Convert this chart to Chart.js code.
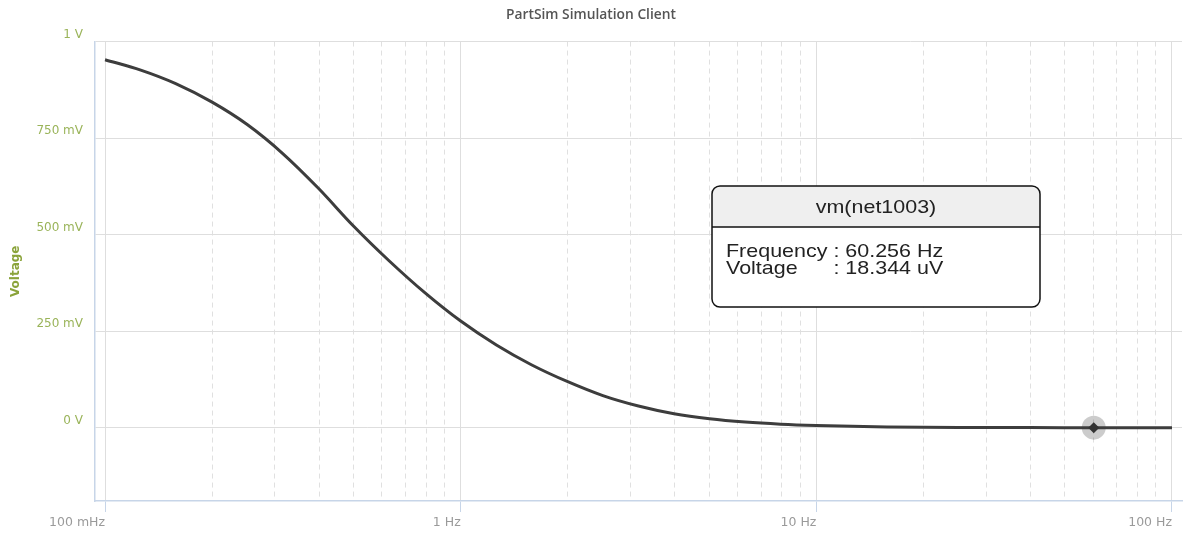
<!DOCTYPE html>
<html>
<head>
<meta charset="utf-8">
<script src="https://cdn.jsdelivr.net/npm/chart.js@4.4.1/dist/chart.umd.min.js"></script>
<style>
  html, body { margin: 0; padding: 0; background: #fff; }
  #wrap { width: 1195px; height: 538px; position: relative; }
</style>
</head>
<body>
<div id="wrap"><canvas id="voltChart"></canvas></div>
<script>
// ==========================================
// DATA
// ==========================================
const freqHz = [0.1, 0.126, 0.158, 0.2, 0.251, 0.316, 0.398, 0.501, 0.631, 0.794, 1, 1.26, 1.58, 2, 2.51, 3.16, 3.98, 5.01, 6.31, 7.94, 10, 12.6, 15.8, 20, 25.1, 31.6, 39.8, 50.1, 60.256, 79.4, 100];
const voltV = [0.953, 0.926, 0.891, 0.843, 0.785, 0.710, 0.620, 0.521, 0.431, 0.349, 0.276, 0.214, 0.163, 0.119, 0.083, 0.056, 0.036, 0.023, 0.0145, 0.009, 0.0055, 0.0033, 0.0019, 0.0010, 0.0005, 0.00026, 0.00013, 0.00004, 0.0000183, 0.0000085, 0.000004];

const xMajorTicks = [0.1, 1, 10, 100];
const xMajorLabels = ['100 mHz', '1 Hz', '10 Hz', '100 Hz'];
const xMinorTicks = [0.2, 0.3, 0.4, 0.5, 0.6, 0.7, 0.8, 0.9, 2, 3, 4, 5, 6, 7, 8, 9, 20, 30, 40, 50, 60, 70, 80, 90];

const yTicks = [0, 0.25, 0.5, 0.75, 1];
const yLabels = ['0 V', '250 mV', '500 mV', '750 mV', '1 V'];

const seriesName = 'vm(net1003)';
const markerFreq = 60.256;
const markerVolt = 18.344e-6;
const markerText = ['Frequency : 60.256 Hz', 'Voltage      : 18.344 uV'];

// ==========================================
// PLUGIN: kotak info di tengah grafik
// ==========================================
const infoBox = {
    id: 'infoBox',
    afterDraw(chart) {
        const ctx = chart.ctx;
        const x = 712, y = 186, w = 328, h = 121, r = 8, headH = 41;
        ctx.save();
        ctx.beginPath();
        ctx.roundRect(x, y, w, h, r);
        ctx.fillStyle = '#ffffff';
        ctx.fill();
        // header abu-abu
        ctx.save();
        ctx.clip();
        ctx.fillStyle = '#efefef';
        ctx.fillRect(x, y, w, headH);
        ctx.restore();
        ctx.beginPath();
        ctx.moveTo(x, y + headH);
        ctx.lineTo(x + w, y + headH);
        ctx.lineWidth = 1.5;
        ctx.strokeStyle = '#111';
        ctx.stroke();
        ctx.beginPath();
        ctx.roundRect(x, y, w, h, r);
        ctx.stroke();

        ctx.fillStyle = '#222';
        ctx.font = '19px "Liberation Sans", Arial, sans-serif';
        ctx.textBaseline = 'middle';
        // judul seri
        ctx.save();
        ctx.translate(x + w / 2, y + 22);
        ctx.scale(1.13, 1);
        ctx.textAlign = 'center';
        ctx.fillText(seriesName, 0, 0);
        ctx.restore();
        // baris nilai
        ctx.textBaseline = 'alphabetic';
        markerText.forEach((line, i) => {
            ctx.save();
            ctx.translate(x + 14, y + 71 + i * 17);
            ctx.scale(1.13, 1);
            ctx.textAlign = 'left';
            ctx.fillText(line, 0, 0);
            ctx.restore();
        });
        ctx.restore();
    }
};

// ==========================================
// RENDER CHART
// ==========================================
function renderChart() {
    const ctx = document.getElementById('voltChart').getContext('2d');
    const points = freqHz.map((f, i) => ({ x: f, y: voltV[i] }));
    const green = '#9ab45a';
    const axisBlue = '#c7d5e8';
    const gridGray = '#dedede';

    new Chart(ctx, {
        type: 'line',
        data: {
            datasets: [
                {
                    label: seriesName,
                    data: points,
                    borderColor: '#3d3d3d',
                    borderWidth: 3,
                    pointRadius: 0,
                    cubicInterpolationMode: 'monotone',
                    fill: false,
                    order: 1
                },
                {
                    label: 'marker',
                    data: [{ x: markerFreq, y: markerVolt }],
                    showLine: false,
                    pointStyle: 'rectRot',
                    pointRadius: 5.5,
                    backgroundColor: '#333',
                    borderWidth: 0,
                    order: 0
                },
                {
                    label: 'halo',
                    data: [{ x: markerFreq, y: markerVolt }],
                    showLine: false,
                    pointStyle: 'circle',
                    pointRadius: 12,
                    backgroundColor: 'rgba(0,0,0,0.2)',
                    borderWidth: 0,
                    order: 2
                }
            ]
        },
        options: {
            responsive: true,
            maintainAspectRatio: false,
            animation: false,
            layout: { padding: { left: 0, right: 13, top: 0, bottom: 0 } },
            plugins: {
                legend: { display: false },
                tooltip: { enabled: false },
                title: {
                    display: true,
                    text: 'PartSim Simulation Client',
                    color: '#555',
                    font: { family: 'Open Sans', size: 13.8, weight: '600' },
                    padding: { top: 7, bottom: 18 }
                }
            },
            scales: {
                x: {
                    type: 'logarithmic',
                    position: 'bottom',
                    min: 0.0937,
                    max: 106.7,
                    bounds: 'data',
                    afterBuildTicks: axis => { axis.ticks = xMajorTicks.map(v => ({ value: v, major: true })); },
                    afterFit: axis => { axis.height = 37; },
                    ticks: {
                        callback: (v, i) => xMajorLabels[i],
                        align: 'end',
                        autoSkip: false,
                        maxRotation: 0,
                        color: '#9a9a9a',
                        padding: 3,
                        font: { family: 'DejaVu Sans', size: 12.5, weight: 'normal' }
                    },
                    grid: { color: gridGray, tickColor: axisBlue, tickLength: 11, lineWidth: 1 },
                    border: { color: axisBlue, width: 1.5 }
                },
                xMinor: {
                    type: 'logarithmic',
                    position: 'bottom',
                    min: 0.0937,
                    max: 106.7,
                    bounds: 'data',
                    afterBuildTicks: axis => { axis.ticks = xMinorTicks.map(v => ({ value: v })); },
                    afterFit: axis => { axis.height = 0; },
                    ticks: { display: false },
                    grid: { color: '#e0e0e0', drawTicks: false, lineWidth: 1 },
                    border: { display: false, dash: [5, 4] }
                },
                y: {
                    type: 'linear',
                    min: -0.19,
                    max: 1,
                    afterBuildTicks: axis => { axis.ticks = yTicks.map(v => ({ value: v })); },
                    afterFit: axis => { axis.width = 95; },
                    ticks: {
                        callback: (v, i) => yLabels[i],
                        color: green,
                        padding: 12,
                        labelOffset: -7,
                        font: { family: 'DejaVu Sans', size: 12, weight: 'normal' }
                    },
                    grid: { color: gridGray, drawTicks: false },
                    border: { color: axisBlue, width: 1.5 },
                    title: {
                        display: true,
                        text: 'Voltage',
                        color: '#8aa33a',
                        font: { family: 'DejaVu Sans', size: 12, weight: 'bold' },
                        padding: { top: 9, bottom: 0 }
                    }
                }
            }
        },
        plugins: [infoBox]
    });
}

window.onload = renderChart;
</script>
</body>
</html>
